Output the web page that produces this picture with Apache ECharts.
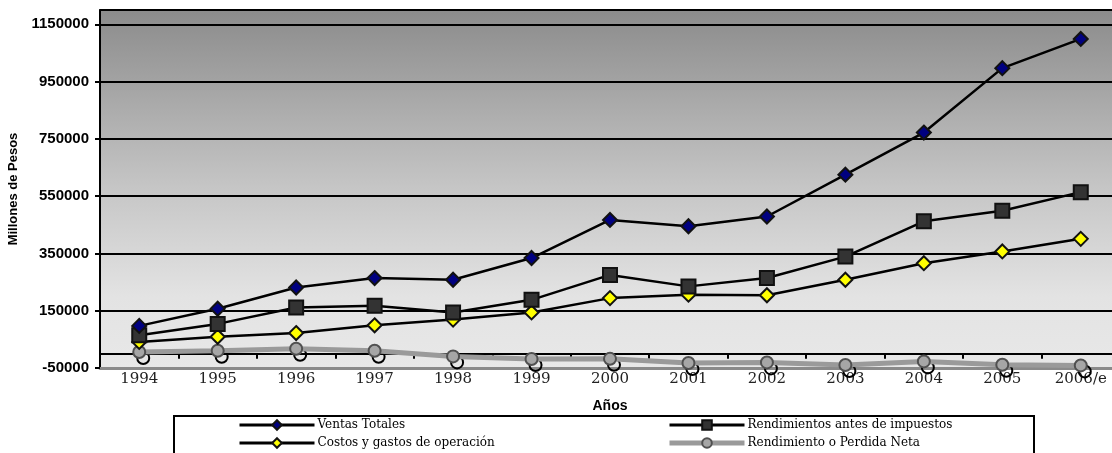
<!DOCTYPE html>
<html>
<head>
<meta charset="utf-8">
<script src="https://cdn.jsdelivr.net/npm/echarts@6/dist/echarts.min.js"></script>
<style>
html,body{margin:0;padding:0;background:#fff;}
#c{width:1112px;height:453px;}
</style>
</head>
<body>
<div id="c"></div>
<script>
const categories = ['1994','1995','1996','1997','1998','1999','2000','2001','2002','2003','2004','2005','2006/e'];
const ventasTotales = [97000,157000,231000,264000,258000,334000,467000,445000,479000,625000,772000,997000,1099000];
const rendimientosAntes = [64000,104000,161000,167000,144000,188000,275000,235000,264000,339000,462000,499000,564000];
const costosGastos = [41000,59000,72000,99000,119000,144000,194000,206000,204000,258000,316000,357000,401000];
const rendimientoNeta = [6000,10000,17000,10000,-9500,-18500,-18000,-32500,-30500,-39500,-27000,-38500,-41000];
const seriesNames = ['Ventas Totales','Rendimientos antes de impuestos','Costos y gastos de operación','Rendimiento o Perdida Neta'];

const chart = echarts.init(document.getElementById('c'), null, {renderer:'canvas'});
const serif = 'DejaVu Serif';
const sans = 'Liberation Sans';

chart.setOption({
  animation: false,
  grid: {
    left: 100, top: 10, right: -8, bottom: 85,
    outerBoundsMode: 'none', containLabel: false,
    show: true,
    borderColor: '#8a8a8a', borderWidth: 2,
    backgroundColor: {
      type: 'linear', x: 0, y: 0, x2: 0, y2: 1,
      colorStops: [
        {offset: 0, color: '#8b8b8b'},
        {offset: 0.5, color: '#c6c6c6'},
        {offset: 0.8, color: '#e3e3e3'},
        {offset: 1, color: '#e8e8e8'}
      ]
    }
  },
  graphic: [{
    type: 'rect', left: 173, top: 415, z: -1,
    shape: {width: 860, height: 60},
    style: {fill: '#fff', stroke: '#000', lineWidth: 2}
  }],
  legend: [{
    orient: 'vertical', left: 238, top: 419, padding: 0,
    itemWidth: 75, itemHeight: 12, itemGap: 6,
    data: [{name: seriesNames[0], lineStyle: {width: 3}}, {name: seriesNames[2], lineStyle: {width: 3}}],
    textStyle: {fontFamily: serif, fontSize: 12, color: '#000', padding: [0,0,0,-2]}
  },{
    orient: 'vertical', left: 667, top: 419, padding: 0,
    itemWidth: 75, itemHeight: 12, itemGap: 6,
    data: [{name: seriesNames[1], lineStyle: {width: 3}}, {name: seriesNames[3], lineStyle: {width: 5, color: '#9a9a9a'}}],
    textStyle: {fontFamily: serif, fontSize: 12, color: '#000', padding: [0,0,0,-2]}
  }],
  xAxis: [{
    type: 'category', data: categories, position: 'bottom',
    boundaryGap: true,
    axisLine: {show: true, onZero: false, lineStyle: {color: '#8a8a8a', width: 3}},
    axisTick: {show: false},
    axisLabel: {fontFamily: serif, fontSize: 15, color: '#222', margin: 4},
    splitLine: {show: false},
    name: 'Años', nameLocation: 'middle', nameGap: 31,
    nameTextStyle: {fontFamily: sans, fontWeight: 'bold', fontSize: 14, color: '#000'}
  },{
    type: 'category', data: categories, position: 'bottom',
    boundaryGap: true,
    axisLine: {show: true, onZero: true, lineStyle: {color: '#000', width: 2}},
    axisTick: {show: true, inside: false, length: 5, lineStyle: {color: '#000', width: 2}},
    axisLabel: {show: false},
    splitLine: {show: false}
  }],
  yAxis: {
    type: 'value', min: -50000, max: 1200000, interval: 200000,
    axisLine: {show: true, lineStyle: {color: '#000', width: 2}},
    axisTick: {show: true, length: 5, lineStyle: {color: '#000', width: 2}},
    axisLabel: {fontFamily: sans, fontWeight: 'bold', fontSize: 15, color: '#000', margin: 11, showMaxLabel: false,
      formatter: function (v) { return String(v); }},
    splitLine: {show: true, lineStyle: {color: '#000', width: 2}},
    name: 'Millones de Pesos', nameLocation: 'middle', nameGap: 80, nameRotate: 90,
    nameTextStyle: {fontFamily: sans, fontWeight: 'bold', fontSize: 13, color: '#000'}
  },
  series: [{
    name: seriesNames[3], type: 'line', data: rendimientoNeta, z: 2,
    symbol: 'circle', symbolSize: 12,
    lineStyle: {color: '#9a9a9a', width: 5},
    itemStyle: {color: '#a6a6a6', borderColor: '#505050', borderWidth: 2}
  },{
    name: '_sombra', type: 'line', data: rendimientoNeta, z: 1,
    symbol: 'circle', symbolSize: 12, symbolOffset: [4, 6],
    lineStyle: {width: 0, opacity: 0},
    itemStyle: {color: 'rgba(0,0,0,0)', borderColor: '#000', borderWidth: 2},
    silent: true
  },{
    name: seriesNames[2], type: 'line', data: costosGastos, z: 3,
    symbol: 'diamond', symbolSize: 14,
    lineStyle: {color: '#000', width: 2.5},
    itemStyle: {color: '#ffff00', borderColor: '#111', borderWidth: 2}
  },{
    name: seriesNames[1], type: 'line', data: rendimientosAntes, z: 4,
    symbol: 'rect', symbolSize: 14,
    lineStyle: {color: '#000', width: 2.5},
    itemStyle: {color: '#333333', borderColor: '#111', borderWidth: 2}
  },{
    name: seriesNames[0], type: 'line', data: ventasTotales, z: 5,
    symbol: 'diamond', symbolSize: 14,
    lineStyle: {color: '#000', width: 2.5},
    itemStyle: {color: '#000080', borderColor: '#111', borderWidth: 2}
  }]
});
</script>
</body>
</html>
